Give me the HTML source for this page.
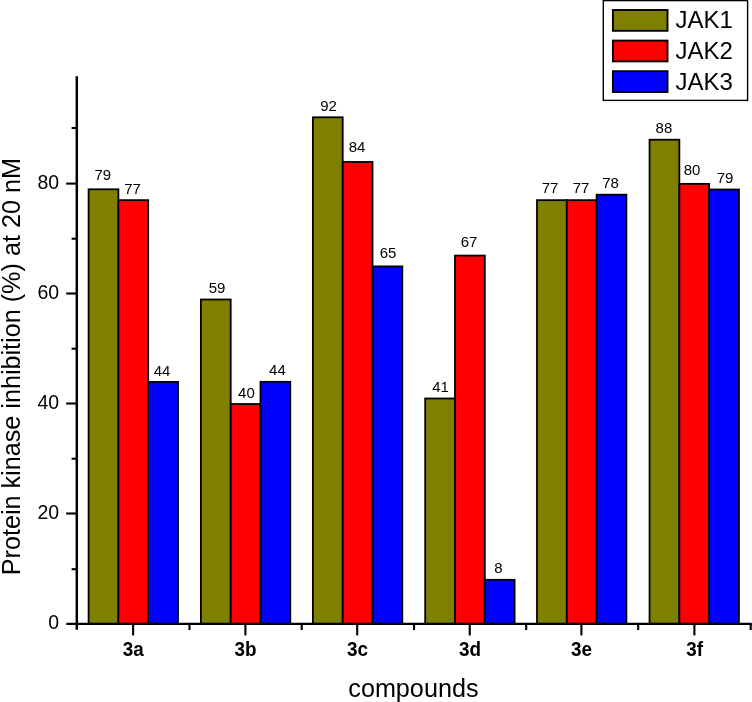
<!DOCTYPE html>
<html><head><meta charset="utf-8"><title>JAK inhibition chart</title>
<style>html,body{margin:0;padding:0;background:#fff;}body{width:752px;height:702px;overflow:hidden;}svg{display:block;will-change:transform;}text{font-family:"Liberation Sans",sans-serif;fill:#000;}</style>
</head><body>
<svg width="752" height="702" viewBox="0 0 752 702">
<rect x="0" y="0" width="752" height="702" fill="#ffffff"/>
<rect x="88.60" y="189.30" width="29.80" height="434.55" fill="#808000" stroke="#000" stroke-width="1.80"/>
<text x="102.75" y="180.46" font-size="15.00" text-anchor="middle">79</text>
<rect x="118.40" y="200.15" width="29.80" height="423.70" fill="#ff0000" stroke="#000" stroke-width="1.80"/>
<text x="132.52" y="193.54" font-size="15.00" text-anchor="middle">77</text>
<rect x="148.20" y="381.90" width="29.80" height="241.95" fill="#0000ff" stroke="#000" stroke-width="1.80"/>
<text x="161.99" y="376.02" font-size="15.00" text-anchor="middle">44</text>
<rect x="200.90" y="299.50" width="29.80" height="324.35" fill="#808000" stroke="#000" stroke-width="1.80"/>
<text x="217.01" y="292.96" font-size="15.00" text-anchor="middle">59</text>
<rect x="230.70" y="404.00" width="29.80" height="219.85" fill="#ff0000" stroke="#000" stroke-width="1.80"/>
<text x="246.46" y="397.54" font-size="15.00" text-anchor="middle">40</text>
<rect x="260.50" y="381.80" width="29.80" height="242.05" fill="#0000ff" stroke="#000" stroke-width="1.80"/>
<text x="277.46" y="374.50" font-size="15.00" text-anchor="middle">44</text>
<rect x="312.90" y="117.30" width="29.80" height="506.55" fill="#808000" stroke="#000" stroke-width="1.80"/>
<text x="328.47" y="111.02" font-size="15.00" text-anchor="middle">92</text>
<rect x="342.70" y="161.95" width="29.80" height="461.90" fill="#ff0000" stroke="#000" stroke-width="1.80"/>
<text x="356.99" y="151.54" font-size="15.00" text-anchor="middle">84</text>
<rect x="372.50" y="266.40" width="29.80" height="357.45" fill="#0000ff" stroke="#000" stroke-width="1.80"/>
<text x="387.99" y="258.48" font-size="15.00" text-anchor="middle">65</text>
<rect x="425.20" y="398.50" width="29.80" height="225.35" fill="#808000" stroke="#000" stroke-width="1.80"/>
<text x="440.48" y="391.50" font-size="15.00" text-anchor="middle">41</text>
<rect x="455.00" y="255.60" width="29.80" height="368.25" fill="#ff0000" stroke="#000" stroke-width="1.80"/>
<text x="469.04" y="247.04" font-size="15.00" text-anchor="middle">67</text>
<rect x="484.80" y="579.80" width="29.80" height="44.05" fill="#0000ff" stroke="#000" stroke-width="1.80"/>
<text x="498.50" y="572.50" font-size="15.00" text-anchor="middle">8</text>
<rect x="537.00" y="200.15" width="29.80" height="423.70" fill="#808000" stroke="#000" stroke-width="1.80"/>
<text x="550.00" y="192.54" font-size="15.00" text-anchor="middle">77</text>
<rect x="566.80" y="200.15" width="29.80" height="423.70" fill="#ff0000" stroke="#000" stroke-width="1.80"/>
<text x="581.00" y="192.54" font-size="15.00" text-anchor="middle">77</text>
<rect x="596.60" y="194.70" width="29.80" height="429.15" fill="#0000ff" stroke="#000" stroke-width="1.80"/>
<text x="610.52" y="187.98" font-size="15.00" text-anchor="middle">78</text>
<rect x="649.55" y="139.70" width="29.80" height="484.15" fill="#808000" stroke="#000" stroke-width="1.80"/>
<text x="663.96" y="133.00" font-size="15.00" text-anchor="middle">88</text>
<rect x="679.35" y="183.85" width="29.80" height="440.00" fill="#ff0000" stroke="#000" stroke-width="1.80"/>
<text x="692.01" y="175.04" font-size="15.00" text-anchor="middle">80</text>
<rect x="709.15" y="189.50" width="29.80" height="434.35" fill="#0000ff" stroke="#000" stroke-width="1.80"/>
<text x="725.04" y="182.96" font-size="15.00" text-anchor="middle">79</text>
<line x1="76.80" y1="76.20" x2="76.80" y2="629.80" stroke="#000" stroke-width="2.50"/>
<line x1="66.30" y1="623.85" x2="751.80" y2="623.85" stroke="#000" stroke-width="2.30"/>
<text transform="translate(59.20 629.05) scale(0.955 1)" font-size="20.40" text-anchor="end">0</text>
<line x1="71.60" y1="569.20" x2="76.80" y2="569.20" stroke="#000" stroke-width="2.10"/>
<line x1="66.20" y1="513.50" x2="76.80" y2="513.50" stroke="#000" stroke-width="2.10"/>
<text transform="translate(59.20 518.70) scale(0.955 1)" font-size="20.40" text-anchor="end">20</text>
<line x1="71.60" y1="458.70" x2="76.80" y2="458.70" stroke="#000" stroke-width="2.10"/>
<line x1="66.20" y1="403.50" x2="76.80" y2="403.50" stroke="#000" stroke-width="2.10"/>
<text transform="translate(59.20 408.70) scale(0.955 1)" font-size="20.40" text-anchor="end">40</text>
<line x1="71.60" y1="348.70" x2="76.80" y2="348.70" stroke="#000" stroke-width="2.10"/>
<line x1="66.20" y1="293.50" x2="76.80" y2="293.50" stroke="#000" stroke-width="2.10"/>
<text transform="translate(59.20 298.70) scale(0.955 1)" font-size="20.40" text-anchor="end">60</text>
<line x1="71.60" y1="238.70" x2="76.80" y2="238.70" stroke="#000" stroke-width="2.10"/>
<line x1="66.20" y1="183.60" x2="76.80" y2="183.60" stroke="#000" stroke-width="2.10"/>
<text transform="translate(59.20 188.80) scale(0.955 1)" font-size="20.40" text-anchor="end">80</text>
<line x1="71.60" y1="128.00" x2="76.80" y2="128.00" stroke="#000" stroke-width="2.10"/>
<line x1="133.10" y1="623.85" x2="133.10" y2="635.45" stroke="#000" stroke-width="2.10"/>
<text transform="translate(133.30 655.70) scale(0.930 1)" font-size="20.30" font-weight="bold" text-anchor="middle">3a</text>
<line x1="189.50" y1="623.85" x2="189.50" y2="630.05" stroke="#000" stroke-width="2.10"/>
<line x1="245.40" y1="623.85" x2="245.40" y2="635.45" stroke="#000" stroke-width="2.10"/>
<text transform="translate(245.60 655.70) scale(0.930 1)" font-size="20.30" font-weight="bold" text-anchor="middle">3b</text>
<line x1="301.70" y1="623.85" x2="301.70" y2="630.05" stroke="#000" stroke-width="2.10"/>
<line x1="357.20" y1="623.85" x2="357.20" y2="635.45" stroke="#000" stroke-width="2.10"/>
<text transform="translate(357.40 655.70) scale(0.930 1)" font-size="20.30" font-weight="bold" text-anchor="middle">3c</text>
<line x1="414.05" y1="623.85" x2="414.05" y2="630.05" stroke="#000" stroke-width="2.10"/>
<line x1="469.75" y1="623.85" x2="469.75" y2="635.45" stroke="#000" stroke-width="2.10"/>
<text transform="translate(469.95 655.70) scale(0.930 1)" font-size="20.30" font-weight="bold" text-anchor="middle">3d</text>
<line x1="526.20" y1="623.85" x2="526.20" y2="630.05" stroke="#000" stroke-width="2.10"/>
<line x1="581.40" y1="623.85" x2="581.40" y2="635.45" stroke="#000" stroke-width="2.10"/>
<text transform="translate(581.60 655.70) scale(0.930 1)" font-size="20.30" font-weight="bold" text-anchor="middle">3e</text>
<line x1="638.20" y1="623.85" x2="638.20" y2="630.05" stroke="#000" stroke-width="2.10"/>
<line x1="694.40" y1="623.85" x2="694.40" y2="635.45" stroke="#000" stroke-width="2.10"/>
<text transform="translate(694.60 655.70) scale(0.930 1)" font-size="20.30" font-weight="bold" text-anchor="middle">3f</text>
<line x1="750.70" y1="623.85" x2="750.70" y2="630.05" stroke="#000" stroke-width="2.10"/>
<text transform="translate(19.80 575.30) rotate(-90)" font-size="25.20">Protein kinase inhibition (%) at 20 nM</text>
<text x="413.40" y="697.00" font-size="25.20" text-anchor="middle">compounds</text>
<rect x="603.3" y="0.6" width="144.3" height="99.8" fill="#fff" stroke="#000" stroke-width="1.4"/>
<rect x="612.9" y="10.00" width="54.6" height="20.8" fill="#808000" stroke="#000" stroke-width="1.9"/>
<text x="675.4" y="28.40" font-size="24">JAK1</text>
<rect x="612.9" y="40.60" width="54.6" height="20.8" fill="#ff0000" stroke="#000" stroke-width="1.9"/>
<text x="675.4" y="59.00" font-size="24">JAK2</text>
<rect x="612.9" y="71.20" width="54.6" height="20.8" fill="#0000ff" stroke="#000" stroke-width="1.9"/>
<text x="675.4" y="89.60" font-size="24">JAK3</text>
</svg>
</body></html>
